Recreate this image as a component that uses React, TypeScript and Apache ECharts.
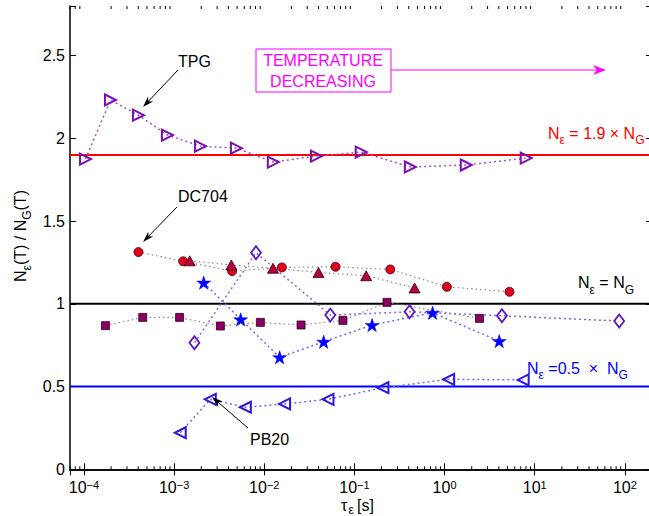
import React, { useEffect, useRef } from "react";
import * as echarts from "echarts";

// ---- axis limits / ticks ----
const X_MIN = 7e-5;
const X_MAX = 200;
const Y_MIN = 0;
const Y_MAX = 2.8;
const Y_INTERVAL = 0.5;

// ---- data ----
const tpgX = [1.04e-4, 1.97e-4, 4.02e-4, 8.43e-4, 1.96e-3, 4.91e-3, 1.26e-2, 3.79e-2, 0.119, 0.417, 1.74, 8.05];
const tpgY = [1.875, 2.232, 2.14, 2.02, 1.953, 1.941, 1.857, 1.893, 1.917, 1.827, 1.839, 1.881];

const dcX = [4.02e-4, 1.26e-3, 4.4e-3, 1.57e-2, 6.17e-2, 0.25, 1.06, 5.25];
const dcY = [1.313, 1.257, 1.198, 1.22, 1.224, 1.208, 1.103, 1.073];

const triX = [1.49e-3, 4.31e-3, 1.25e-2, 4.0e-2, 0.135, 0.465];
const triY = [1.26, 1.235, 1.215, 1.19, 1.17, 1.096];

const sqX = [1.73e-4, 4.49e-4, 1.15e-3, 3.26e-3, 9.06e-3, 2.56e-2, 7.46e-2, 0.23, 2.44];
const sqY = [0.868, 0.918, 0.918, 0.866, 0.888, 0.872, 0.9, 1.009, 0.912];

const diaX = [1.68e-3, 8.1e-3, 0.054, 0.409, 4.33, 86.5];
const diaY = [0.765, 1.309, 0.932, 0.952, 0.928, 0.896];

const starX = [2.13e-3, 5.47e-3, 1.48e-2, 4.56e-2, 0.157, 0.736, 4.04];
const starY = [1.128, 0.906, 0.677, 0.771, 0.872, 0.946, 0.775];

const pbX = [1.17e-3, 2.52e-3, 6.17e-3, 1.68e-2, 5.09e-2, 0.207, 1.11, 7.45];
const pbY = [0.221, 0.423, 0.375, 0.395, 0.423, 0.493, 0.544, 0.54];

const refLevels = [1.9, 1, 0.5];
const refColors = ["#ff0000", "#000000", "#0000ff"];

const FONT = "'Liberation Sans', Arial, Helvetica, sans-serif";

const RIGHT_TRI = "path://M0,0L10,5L0,10Z";
const LEFT_TRI = "path://M10,0L0,5L10,10Z";
const STAR = (() => {
  const pts: string[] = [];
  for (let i = 0; i < 10; i++) {
    const r = i % 2 === 0 ? 50 : 19.1;
    const a = -Math.PI / 2 + (i * Math.PI) / 5;
    pts.push(`${(50 + r * Math.cos(a)).toFixed(2)},${(50 + r * Math.sin(a)).toFixed(2)}`);
  }
  return "path://M" + pts.join("L") + "Z";
})();

function pairs(xs: number[], ys: number[]) {
  return xs.map((x, i) => [x, ys[i]]);
}

function markerSeries(
  name: string,
  xs: number[],
  ys: number[],
  symbol: string,
  size: number | number[],
  item: any,
  lineColor: string,
  dash: number[],
  lineWidth: number,
  keepAspect = false
) {
  return {
    name,
    type: "line",
    data: pairs(xs, ys),
    symbol,
    symbolSize: size,
    symbolKeepAspect: keepAspect,
    showSymbol: true,
    itemStyle: item,
    lineStyle: { color: lineColor, width: lineWidth, type: dash },
    z: 3,
    emphasis: { disabled: true },
  };
}

function arrow(x1: number, y1: number, x2: number, y2: number, color: string, len = 11, half = 3.5, notch = 3) {
  const dx = x2 - x1;
  const dy = y2 - y1;
  const L = Math.hypot(dx, dy);
  const ux = dx / L;
  const uy = dy / L;
  const bx = x2 - ux * len;
  const by = y2 - uy * len;
  const nx = -uy;
  const ny = ux;
  const mx = x2 - ux * (len - notch);
  const my = y2 - uy * (len - notch);
  return [
    {
      type: "line",
      shape: { x1, y1, x2: mx, y2: my },
      style: { stroke: color, lineWidth: 1 },
      z: 20,
    },
    {
      type: "polygon",
      shape: {
        points: [
          [x2, y2],
          [bx + nx * half, by + ny * half],
          [mx, my],
          [bx - nx * half, by - ny * half],
        ],
      },
      style: { fill: color },
      z: 20,
    },
  ];
}

function richText(x: number, y: number, text: string, color: string, align = "left", rotation = 0, lh = 26) {
  return {
    type: "text",
    x,
    y,
    rotation,
    z: 20,
    style: {
      text,
      textAlign: align,
      textVerticalAlign: "middle",
      fill: color,
      rich: {
        n: { fontSize: 16, fontFamily: FONT, fill: color, lineHeight: lh, verticalAlign: "middle" },
        s: { fontSize: 12, fontFamily: FONT, fill: color, lineHeight: 12, verticalAlign: "bottom" },
      },
    },
  };
}

function plainText(x: number, y: number, text: string, color: string, align = "left", size = 16, lh?: number) {
  return {
    type: "text",
    x,
    y,
    z: 20,
    style: {
      text,
      fill: color,
      fontSize: size,
      fontFamily: FONT,
      lineHeight: lh,
      textAlign: align,
      textVerticalAlign: "middle",
    },
  };
}

const minorVals: number[] = [];
for (let k = -5; k <= 2; k++) {
  for (let m = 2; m <= 9; m++) {
    const v = m * Math.pow(10, k);
    if (v >= X_MIN * 0.999 && v <= X_MAX * 1.001) minorVals.push(v);
  }
}

export default function App() {
  const ref = useRef<HTMLDivElement>(null);

  useEffect(() => {
    if (!ref.current) return;
    const chart = echarts.init(ref.current, null, { renderer: "svg" });

    const xLabelFmt = (v: number) => {
      const e = Math.round(Math.log10(v));
      const es = e < 0 ? "\u2212" + String(-e) : String(e);
      return `{b|10}{s|${es}}`;
    };

    const xAxisBase = {
      type: "log",
      logBase: 10,
      min: X_MIN,
      max: X_MAX,
      axisLine: { show: true, lineStyle: { color: "#000", width: 1.5 } },
      axisTick: { show: true, inside: true, length: 6, lineStyle: { color: "#000", width: 1 } },
      splitLine: { show: false },
      minorTick: { show: false },
    };

    const yAxisBase = {
      type: "value",
      min: Y_MIN,
      max: Y_MAX,
      interval: Y_INTERVAL,
      axisLine: { show: true, lineStyle: { color: "#000", width: 1.5 } },
      axisTick: { show: true, inside: true, length: 6, lineStyle: { color: "#000", width: 1 } },
      splitLine: { show: false },
    };

    const option: any = {
      animation: false,
      backgroundColor: "#ffffff",
      textStyle: { fontFamily: FONT },
      grid: {
        left: 70,
        top: 6,
        width: 582,
        height: 463.3,
        containLabel: false,
        outerBoundsMode: "none",
      },
      xAxis: [
        {
          ...xAxisBase,
          position: "bottom",
          axisLabel: {
            show: true,
            margin: 10,
            showMinLabel: false,
            showMaxLabel: false,
            formatter: xLabelFmt,
            rich: {
              b: { fontSize: 16, fontFamily: FONT, color: "#000", lineHeight: 17, verticalAlign: "middle" },
              s: { fontSize: 11, fontFamily: FONT, color: "#000", lineHeight: 7, verticalAlign: "top" },
            },
          },
        },
        {
          ...xAxisBase,
          position: "top",
          axisLabel: { show: false },
        },
      ],
      yAxis: [
        {
          ...yAxisBase,
          position: "left",
          axisLabel: {
            show: true,
            margin: 5,
            fontSize: 16,
            fontFamily: FONT,
            color: "#000",
            formatter: (v: number) => (v > Y_MAX - 0.25 ? "" : String(v)),
          },
        },
        {
          ...yAxisBase,
          position: "right",
          axisLabel: { show: false },
        },
      ],
      series: [
        // reference lines
        ...refLevels.map((lv, i) => ({
          name: "ref" + i,
          type: "line",
          data: [
            [X_MIN, lv],
            [X_MAX, lv],
          ],
          symbol: "none",
          lineStyle: { color: refColors[i], width: 2, type: "solid" },
          z: 2,
          silent: true,
        })),
        // minor ticks on the log axis (bottom and top)
        {
          name: "minorTicks",
          type: "custom",
          silent: true,
          data: minorVals.map((v) => [v, Y_MIN]),
          encode: { x: 0, y: 1 },
          clip: false,
          z: 10,
          renderItem: (params: any, api: any) => {
            const v = api.value(0);
            const b = api.coord([v, Y_MIN]);
            const t = api.coord([v, Y_MAX]);
            return {
              type: "group",
              children: [
                { type: "line", shape: { x1: b[0], y1: b[1], x2: b[0], y2: b[1] - 3 }, style: { stroke: "#000", lineWidth: 1 } },
                { type: "line", shape: { x1: t[0], y1: t[1], x2: t[0], y2: t[1] + 3 }, style: { stroke: "#000", lineWidth: 1 } },
              ],
            };
          },
        },
        markerSeries("TPG", tpgX, tpgY, RIGHT_TRI, [11, 11],
          { color: "rgba(0,0,0,0)", borderColor: "#7a10b0", borderWidth: 2 },
          "#9a55cc", [2, 3], 1.5),
        markerSeries("DC704", dcX, dcY, "circle", 9,
          { color: "#e0001c", borderColor: "#400000", borderWidth: 0.8 },
          "#8a8a8a", [1.5, 3], 1.2),
        markerSeries("tri", triX, triY, "triangle", [11, 10],
          { color: "#b8003a", borderColor: "#300010", borderWidth: 0.8 },
          "#8a8a8a", [1.5, 3], 1.2),
        markerSeries("sq", sqX, sqY, "rect", 8,
          { color: "#8a0060", borderColor: "#300020", borderWidth: 0.8 },
          "#8a8a8a", [1.5, 3], 1.2),
        markerSeries("dia", diaX, diaY, "diamond", [10, 13],
          { color: "rgba(0,0,0,0)", borderColor: "#5a18c0", borderWidth: 1.8 },
          "#8a66dd", [2, 3], 1.5),
        markerSeries("star", starX, starY, STAR, 14,
          { color: "#0000ff", borderColor: "#0000ff", borderWidth: 0.5 },
          "#6a6aff", [2, 3], 1.5, true),
        markerSeries("PB20", pbX, pbY, LEFT_TRI, [11, 11],
          { color: "rgba(0,0,0,0)", borderColor: "#2a18e0", borderWidth: 2 },
          "#6a6aff", [2, 3], 1.5),
      ],
      graphic: [
        // temperature box
        {
          type: "rect",
          shape: { x: 256, y: 49, width: 135, height: 43 },
          style: { fill: "#ffffff", stroke: "#ff00ff", lineWidth: 1 },
          z: 19,
        },
        plainText(323, 60, "TEMPERATURE", "#ff00ff", "center"),
        plainText(323, 81, "DECREASING", "#ff00ff", "center"),
        ...arrow(391, 70, 606, 70, "#ff00ff", 13, 5, 4),
        // annotations
        plainText(178, 61, "TPG", "#000"),
        ...arrow(178, 70, 143, 107, "#000"),
        plainText(178, 196, "DC704", "#000"),
        ...arrow(177, 207, 143, 242, "#000"),
        plainText(250, 439, "PB20", "#000"),
        ...arrow(248, 428, 212, 397, "#000"),
        // reference line labels
        richText(548, 133, "{n|N}{s|\u03b5}{n| = 1.9 \u00d7 N}{s|G}", "#ff0000"),
        richText(578, 282.5, "{n|N}{s|\u03b5}{n| = N}{s|G}", "#000000"),
        richText(527, 368, "{n|N}{s|\u03b5}{n| =0.5  \u00d7  N}{s|G}", "#0000ff"),
        // x-axis title (tau, subscript epsilon, [s])
        plainText(341, 505, "\u03c4", "#000000", "left", 16, 12),
        plainText(348.5, 510, "\u03b5", "#000000", "left", 12, 10),
        plainText(357, 505, "[s]", "#000000", "left", 16, 12),
        // y-axis title
        richText(20, 236, "{n|N}{s|\u03b5}{n|(T) / N}{s|G}{n|(T)}", "#000000", "center", Math.PI / 2),
      ],
    };

    chart.setOption(option);
    return () => {
      chart.dispose();
    };
  }, []);

  return (
    <div
      ref={ref}
      style={{ position: "absolute", left: 0, top: 0, width: 649, height: 516, background: "#fff" }}
    />
  );
}
